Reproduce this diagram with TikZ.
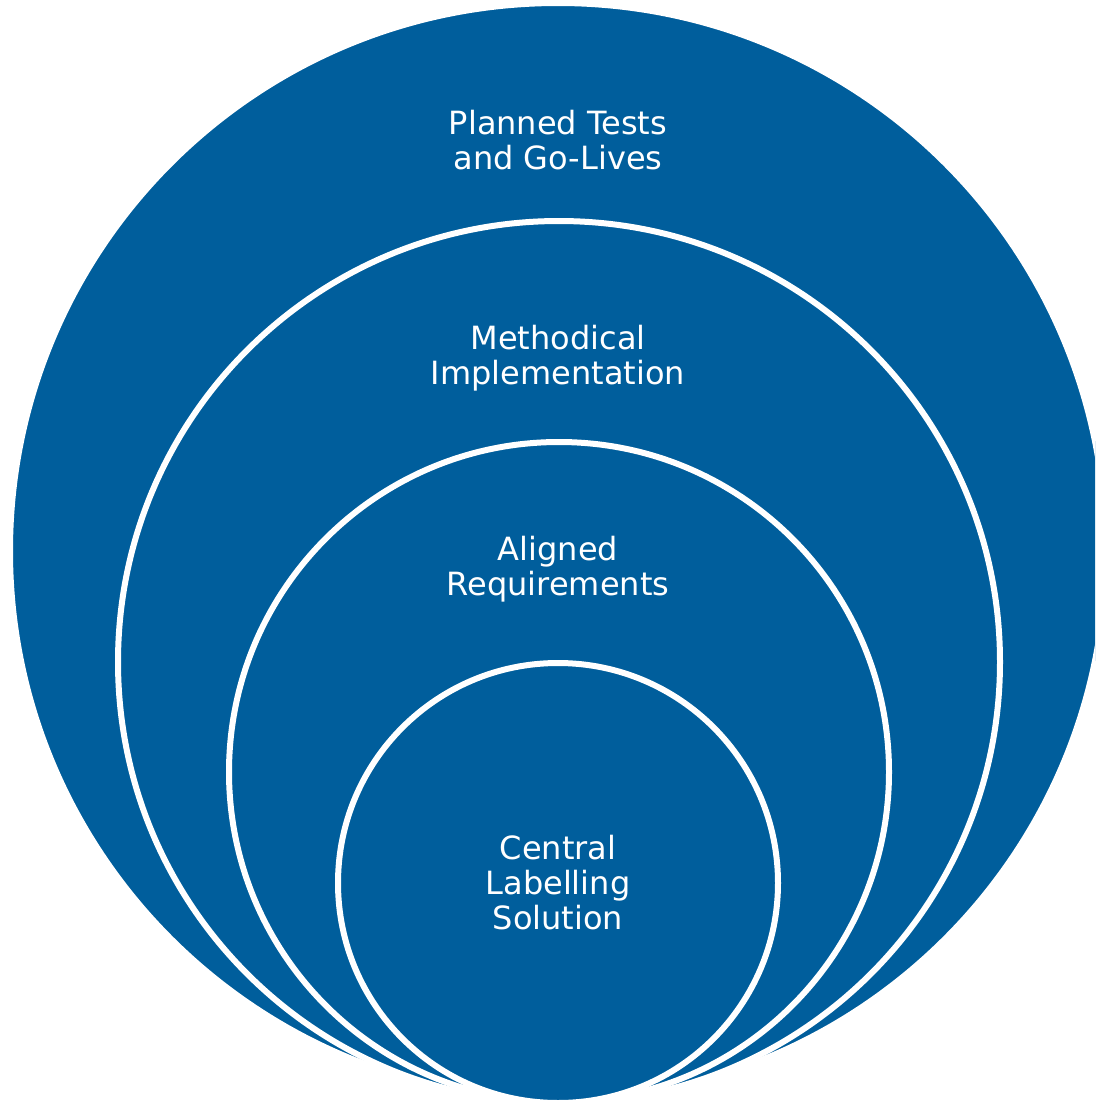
\documentclass[tikz,border=0pt]{standalone}
\usepackage{fontspec}
\setmainfont{DejaVu Sans}
\definecolor{ringblue}{HTML}{005E9C}
\begin{document}
\begin{tikzpicture}[x=1pt,y=-1pt,
  ring/.style={fill=ringblue,draw=white,line width=6pt},
  lbl/.style={text=white,align=center,font=\fontsize{32}{35}\selectfont,inner sep=0pt}]
\useasboundingbox (0,0) rectangle (1095,1100);
\clip (0,0) rectangle (1095,1100);
\fill[white] (0,0) rectangle (1095,1100);
\node[ring,circle,minimum size=1096pt,inner sep=0pt] (c1) at (558,551) {};
\node[ring,circle,minimum size=882pt,inner sep=0pt] (c2) at (559,662) {};
\node[ring,circle,minimum size=660pt,inner sep=0pt] (c3) at (559,772) {};
\node[ring,circle,minimum size=440pt,inner sep=0pt] (c4) at (558,883) {};
\node[lbl] (t1) at (558,140) {Planned Tests\\and Go-Lives};
\node[lbl] (t2) at (558,358) {Methodical\\Implementation};
\node[lbl] (t3) at (558,569) {Aligned\\Requirements};
\node[lbl] (t4) at (558,883) {Central\\Labelling\\Solution};
\end{tikzpicture}
\end{document}
